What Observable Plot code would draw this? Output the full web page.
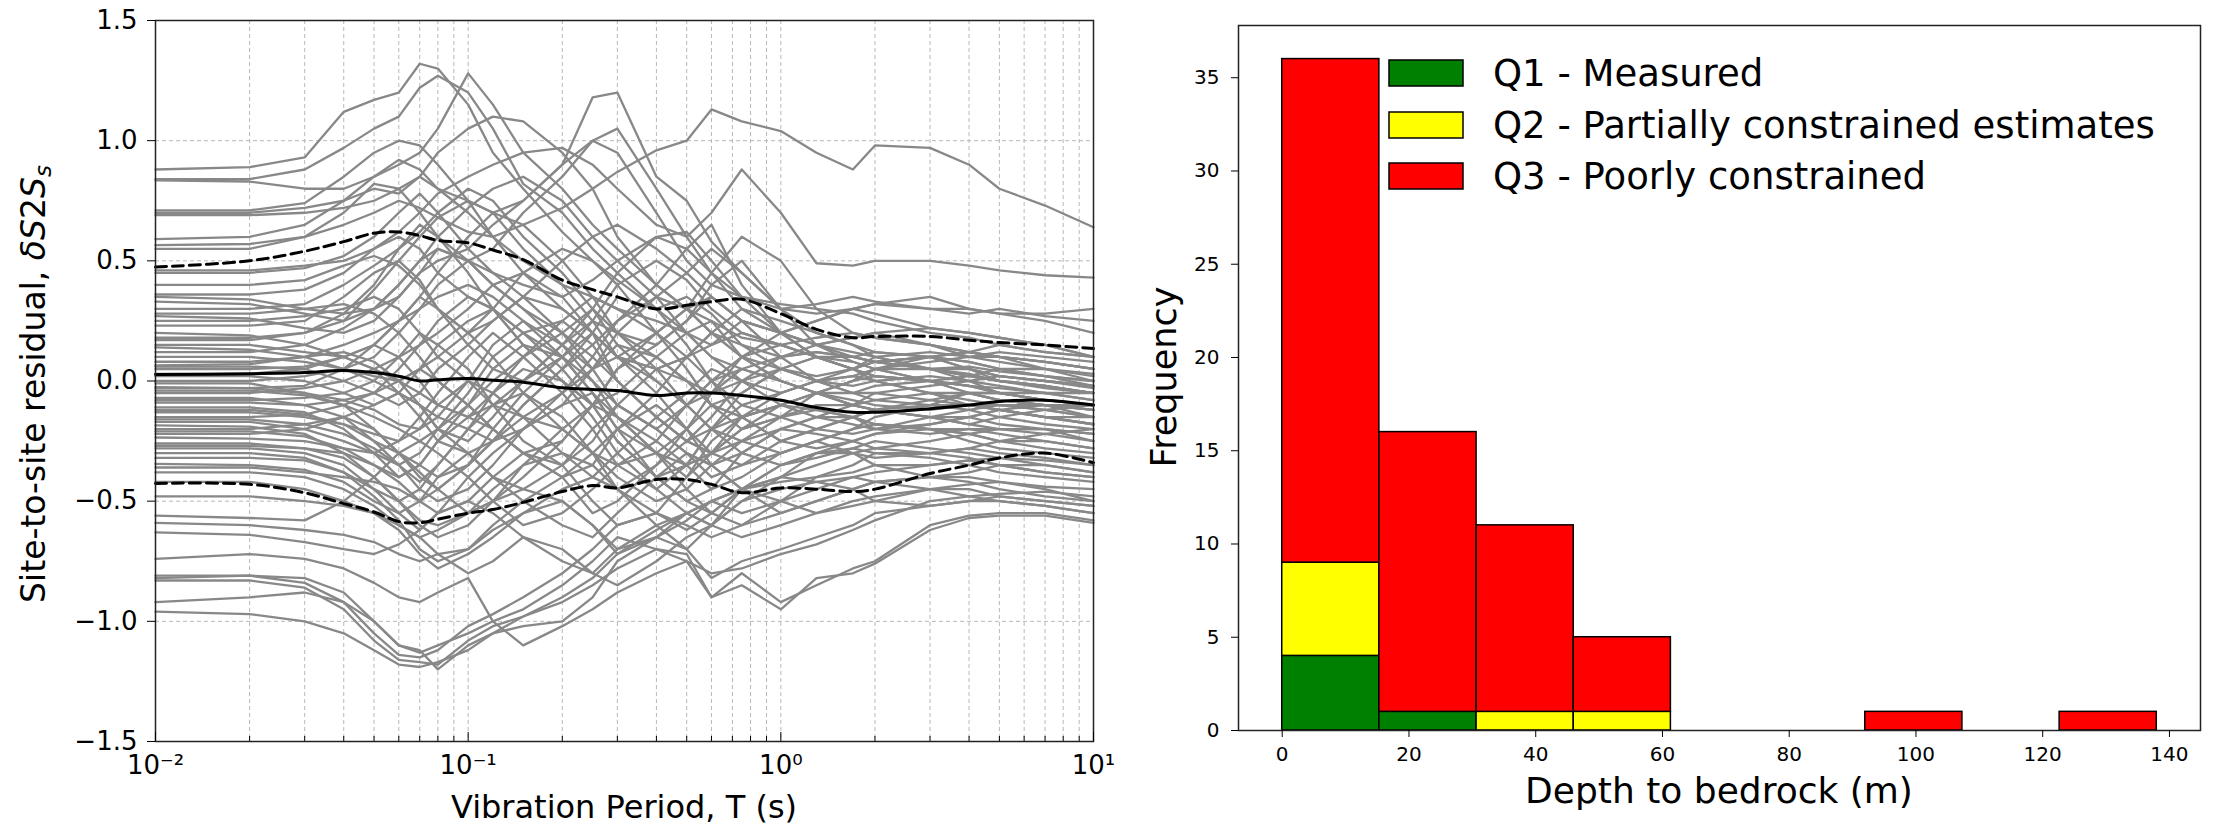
<!DOCTYPE html>
<html>
<head>
<meta charset="utf-8">
<script src="https://cdn.jsdelivr.net/npm/d3@7"></script>
<script src="https://cdn.jsdelivr.net/npm/@observablehq/plot@0.6"></script>
<style>
  html, body { margin: 0; padding: 0; background: #fff; }
  #wrap { position: relative; width: 2213px; height: 827px; font-family: "DejaVu Sans", sans-serif; background: #fff; }
  #left { position: absolute; left: 0; top: 0; z-index: 2; }
  #right { position: absolute; left: 1110px; top: 0; z-index: 1; }
</style>
</head>
<body>
<div id="wrap"><div id="left"></div><div id="right"></div></div>
<script>
// ---------- Left panel: site-to-site residuals vs period ----------
const periods = [0.01,0.02,0.03,0.04,0.05,0.06,0.07,0.08,0.1,0.12,0.15,0.2,0.25,0.3,0.4,0.5,0.6,0.75,1,1.3,1.7,2,3,4,5,7,10];

const s01 = [0.88,0.89,0.93,1.12,1.17, 1.20,1.32,1.30,1.15,0.95, 0.80,0.62,0.50,0.42,0.30, 0.35,0.28,0.15,0.10,0.12, 0.10,0.08,0.05,0.06,0.04, 0.02,0.00];
const s02 = [0.84,0.84,0.88,0.97,1.05, 1.10,1.22,1.27,1.20,1.05, 0.82,0.70,0.55,0.45,0.30, 0.20,0.25,0.18,0.15,0.10, 0.05,0.08,0.10,0.12,0.10, 0.08,0.05];
const s03 = [0.835,0.83,0.80,0.80,0.85, 0.90,0.95,1.05,1.28,1.15, 0.95,0.80,0.65,0.55,0.40, 0.30,0.20,0.10,0.05,0.02, 0.05,0.10,0.12,0.10,0.08, 0.05,0.02];
const s04 = [0.71,0.71,0.74,0.85,0.95, 1.00,0.98,0.90,0.75,0.60, 0.45,0.30,0.20,0.10,0.05, 0.00,-0.05,0.00,0.05,0.10, 0.10,0.08,0.05,0.02,0.00, -0.02,-0.05];
const s05 = [0.70,0.70,0.72,0.75,0.80, 0.78,0.85,0.95,1.05,1.10, 1.08,0.95,0.80,0.60,0.40, 0.30,0.35,0.25,0.20,0.15, 0.18,0.20,0.22,0.20,0.18, 0.15,0.10];
const s06 = [0.69,0.69,0.70,0.72,0.75, 0.80,0.85,0.80,0.75,0.70, 0.75,0.90,1.18,1.20,0.85, 0.75,0.58,0.45,0.30,0.28, 0.30,0.32,0.30,0.28,0.30, 0.27,0.25];
const s07 = [0.59,0.60,0.65,0.75,0.85, 0.92,0.88,0.80,0.70,0.60, 0.50,0.40,0.35,0.30,0.25, 0.20,0.15,0.20,0.15,0.10, 0.05,0.02,0.00,-0.05,-0.08, -0.10,-0.12];
const s08 = [0.565,0.57,0.60,0.65,0.70, 0.75,0.72,0.68,0.62,0.60, 0.65,0.72,0.80,0.87,0.96, 1.00,1.13,1.08,1.04,0.95, 0.88,0.98,0.97,0.90,0.80, 0.73,0.64];
const s09 = [0.55,0.55,0.60,0.70,0.82, 0.80,0.70,0.60,0.50,0.55, 0.70,0.85,1.00,1.05,0.80, 0.60,0.45,0.30,0.20,0.15, 0.18,0.20,0.15,0.10,0.12, 0.10,0.08];
const s10 = [0.46,0.46,0.48,0.50,0.55, 0.62,0.70,0.78,0.85,0.90, 0.95,0.97,0.90,0.80,0.65, 0.60,0.70,0.88,0.70,0.49, 0.48,0.50,0.50,0.48,0.46, 0.44,0.43];
const s11 = [0.45,0.45,0.47,0.52,0.60, 0.70,0.78,0.70,0.55,0.45, 0.40,0.35,0.42,0.50,0.60, 0.55,0.45,0.35,0.30,0.32, 0.35,0.33,0.30,0.30,0.28, 0.28,0.30];
const s12 = [0.36,0.36,0.38,0.45,0.55, 0.60,0.55,0.45,0.35,0.30, 0.20,0.10,0.00,-0.10,-0.20, -0.10,0.00,0.10,0.20,0.25, 0.30,0.32,0.35,0.30,0.28, 0.25,0.20];
const s13 = [0.35,0.34,0.30,0.28,0.30, 0.40,0.50,0.60,0.72,0.80, 0.85,0.75,0.60,0.50,0.35, 0.20,0.10,0.05,0.10,0.15, 0.12,0.10,0.05,0.05,0.02, 0.00,-0.02];
const s14 = [0.33,0.32,0.28,0.25,0.30, 0.35,0.45,0.55,0.50,0.40, 0.30,0.15,0.05,0.10,0.20, 0.30,0.45,0.60,0.50,0.30, 0.20,0.18,0.15,0.12,0.10, 0.05,0.00];
const s15 = [0.30,0.30,0.32,0.40,0.48, 0.55,0.62,0.70,0.80,0.75, 0.60,0.45,0.30,0.15,0.00, -0.10,-0.05,0.05,0.00,-0.05, -0.10,-0.08,-0.05,-0.05,-0.08, -0.10,-0.12];
const s16 = [0.27,0.26,0.22,0.20,0.25, 0.35,0.45,0.50,0.55,0.65, 0.75,0.90,1.00,0.95,0.70, 0.50,0.40,0.35,0.32,0.30, 0.28,0.25,0.20,0.18,0.15, 0.12,0.10];
const s17 = [0.25,0.25,0.27,0.30,0.35, 0.30,0.20,0.10,0.00,-0.10, -0.15,-0.05,0.10,0.25,0.40, 0.55,0.65,0.40,0.20,0.10, 0.05,0.08,0.10,0.05,0.00, -0.02,-0.05];
const s18 = [0.23,0.23,0.25,0.35,0.45, 0.50,0.42,0.30,0.20,0.25, 0.35,0.50,0.60,0.65,0.55, 0.45,0.35,0.25,0.20,0.25, 0.30,0.28,0.22,0.20,0.18, 0.15,0.10];
const s19 = [0.20,0.19,0.15,0.10,0.05, 0.00,-0.05,-0.10,-0.15,-0.10, 0.00,0.15,0.30,0.45,0.60, 0.62,0.50,0.35,0.20,0.15, 0.10,0.12,0.10,0.05,0.02, 0.00,-0.03];
const s20 = [0.17,0.17,0.20,0.25,0.38, 0.50,0.60,0.68,0.75,0.70, 0.55,0.40,0.25,0.10,0.00, -0.10,-0.20,-0.15,-0.10,-0.05, 0.00,0.02,0.00,-0.02,-0.05, -0.08,-0.10];
const s21 = [0.15,0.15,0.12,0.10,0.15, 0.25,0.35,0.45,0.60,0.70, 0.65,0.50,0.35,0.20,0.15, 0.25,0.40,0.50,0.30,0.15, 0.08,0.05,0.00,-0.05,-0.08, -0.10,-0.15];
const s22 = [0.14,0.13,0.10,0.05,0.00, -0.05,-0.10,-0.15,-0.20,-0.25, -0.20,-0.10,0.05,0.20,0.35, 0.45,0.55,0.45,0.30,0.20, 0.15,0.12,0.10,0.08,0.05, 0.02,0.00];
const s23 = [0.12,0.12,0.15,0.22,0.30, 0.40,0.50,0.55,0.50,0.40, 0.30,0.20,0.10,0.00,-0.15, -0.25,-0.30,-0.20,-0.10,-0.05, -0.10,-0.12,-0.15,-0.18,-0.20, -0.20,-0.22];
const s24 = [0.10,0.10,0.08,0.05,0.02, 0.00,0.05,0.10,0.20,0.30, 0.45,0.55,0.50,0.40,0.20, 0.05,-0.10,-0.20,-0.15,-0.05, 0.00,0.05,0.08,0.10,0.10, 0.08,0.05];
const s25 = [0.065,0.07,0.10,0.15,0.20, 0.25,0.30,0.35,0.40,0.35, 0.25,0.10,-0.05,-0.20,-0.30, -0.20,-0.05,0.10,0.15,0.10, 0.05,0.00,-0.05,-0.10,-0.12, -0.15,-0.18];
const s26 = [0.06,0.06,0.05,0.00,-0.05, -0.10,-0.05,0.05,0.15,0.25, 0.35,0.30,0.20,0.10,0.05, 0.10,0.20,0.30,0.25,0.20, 0.15,0.10,0.05,0.00,-0.05, -0.08,-0.10];
const s27 = [0.03,0.03,0.05,0.10,0.05, -0.05,-0.15,-0.25,-0.30,-0.25, -0.10,0.05,0.20,0.35,0.30, 0.15,0.00,-0.10,-0.15,-0.20, -0.22,-0.20,-0.15,-0.12,-0.10, -0.10,-0.12];
const s28 = [0.00,0.00,0.02,0.05,0.10, 0.20,0.30,0.40,0.50,0.45, 0.35,0.20,0.05,-0.10,-0.20, -0.30,-0.35,-0.30,-0.20,-0.15, -0.10,-0.05,-0.02,0.00,0.02, 0.00,-0.02];
const s29 = [-0.01,-0.01,-0.05,-0.10,-0.15, -0.20,-0.25,-0.20,-0.10,0.00, 0.10,0.20,0.30,0.20,0.05, -0.10,-0.20,-0.25,-0.30,-0.25, -0.20,-0.15,-0.10,-0.05,-0.05, -0.08,-0.10];
const s30 = [-0.026,-0.03,-0.02,0.05,0.15, 0.25,0.35,0.30,0.20,0.10, -0.05,-0.20,-0.30,-0.35,-0.25, -0.10,0.00,0.05,0.00,-0.05, -0.10,-0.12,-0.15,-0.15,-0.18, -0.20,-0.25];
const s31 = [-0.04,-0.04,-0.06,-0.10,-0.20, -0.30,-0.35,-0.40,-0.35,-0.25, -0.10,0.05,0.15,0.25,0.35, 0.30,0.20,0.10,0.00,-0.05, -0.05,-0.02,0.00,0.02,0.05, 0.05,0.03];
const s32 = [-0.05,-0.05,-0.03,0.00,0.05, 0.10,0.15,0.20,0.30,0.40, 0.45,0.35,0.20,0.00,-0.15, -0.25,-0.30,-0.35,-0.30,-0.25, -0.20,-0.18,-0.20,-0.22,-0.25, -0.25,-0.28];
const s33 = [-0.07,-0.07,-0.10,-0.15,-0.25, -0.35,-0.45,-0.50,-0.45,-0.35, -0.20,-0.05,0.05,0.15,0.10, 0.00,-0.10,-0.15,-0.10,-0.05, 0.00,0.05,0.10,0.12,0.15, 0.12,0.10];
const s34 = [-0.09,-0.09,-0.10,-0.08,-0.05, 0.00,0.05,0.00,-0.10,-0.20, -0.30,-0.40,-0.35,-0.20,-0.05, 0.10,0.20,0.15,0.05,0.00, -0.02,0.00,0.02,0.00,-0.02, -0.05,-0.08];
const s35 = [-0.11,-0.11,-0.13,-0.20,-0.30, -0.40,-0.35,-0.25,-0.10,0.05, 0.15,0.10,-0.05,-0.20,-0.40, -0.50,-0.45,-0.30,-0.20,-0.15, -0.15,-0.18,-0.20,-0.25,-0.28, -0.30,-0.32];
const s36 = [-0.13,-0.13,-0.15,-0.18,-0.25, -0.30,-0.38,-0.45,-0.55,-0.50, -0.40,-0.25,-0.10,0.05,0.20, 0.30,0.25,0.10,0.00,-0.05, -0.08,-0.10,-0.12,-0.10,-0.10, -0.12,-0.15];
const s37 = [-0.15,-0.15,-0.14,-0.10,-0.05, 0.05,0.15,0.25,0.35,0.30, 0.15,0.00,-0.15,-0.30,-0.45, -0.55,-0.60,-0.50,-0.40,-0.35, -0.30,-0.28,-0.25,-0.22,-0.20, -0.20,-0.22];
const s38 = [-0.17,-0.17,-0.20,-0.25,-0.30, -0.35,-0.30,-0.20,-0.05,0.10, 0.20,0.25,0.15,0.00,-0.15, -0.25,-0.15,0.00,0.10,0.12, 0.10,0.08,0.05,0.02,0.00, -0.02,-0.05];
const s39 = [-0.185,-0.19,-0.22,-0.30,-0.40, -0.50,-0.60,-0.65,-0.60,-0.50, -0.35,-0.20,-0.10,-0.15,-0.30, -0.45,-0.55,-0.45,-0.35,-0.30, -0.28,-0.30,-0.32,-0.35,-0.38, -0.40,-0.42];
const s40 = [-0.20,-0.20,-0.18,-0.15,-0.20, -0.30,-0.40,-0.45,-0.35,-0.20, -0.05,0.10,0.20,0.10,-0.05, -0.20,-0.30,-0.25,-0.15,-0.10, -0.10,-0.12,-0.15,-0.18,-0.15, -0.12,-0.10];
const s41 = [-0.21,-0.21,-0.23,-0.28,-0.35, -0.42,-0.50,-0.55,-0.50,-0.40, -0.30,-0.35,-0.50,-0.60,-0.55, -0.40,-0.25,-0.15,-0.10,-0.12, -0.15,-0.18,-0.20,-0.22,-0.25, -0.28,-0.30];
const s42 = [-0.235,-0.24,-0.25,-0.28,-0.30, -0.25,-0.15,-0.05,0.10,0.20, 0.10,-0.05,-0.20,-0.35,-0.45, -0.35,-0.20,-0.10,-0.05,0.00, 0.02,0.05,0.05,0.03,0.00, -0.03,-0.05];
const s43 = [-0.26,-0.26,-0.28,-0.32,-0.40, -0.50,-0.58,-0.60,-0.55,-0.45, -0.35,-0.30,-0.35,-0.45,-0.60, -0.70,-0.60,-0.45,-0.35,-0.30, -0.30,-0.35,-0.40,-0.42,-0.45, -0.48,-0.50];
const s44 = [-0.28,-0.28,-0.30,-0.35,-0.45, -0.55,-0.62,-0.55,-0.40,-0.30, -0.20,-0.10,-0.05,-0.15,-0.25, -0.35,-0.30,-0.20,-0.15,-0.12, -0.15,-0.20,-0.22,-0.20,-0.20, -0.22,-0.25];
const s45 = [-0.30,-0.30,-0.32,-0.38,-0.45, -0.50,-0.45,-0.35,-0.20,-0.05, 0.05,0.00,-0.10,-0.25,-0.40, -0.50,-0.55,-0.60,-0.50,-0.40, -0.35,-0.30,-0.30,-0.32,-0.35, -0.38,-0.40];
const s46 = [-0.32,-0.32,-0.33,-0.38,-0.48, -0.58,-0.70,-0.75,-0.70,-0.60, -0.50,-0.40,-0.30,-0.20,-0.10, -0.20,-0.35,-0.45,-0.40,-0.30, -0.25,-0.22,-0.18,-0.15,-0.12, -0.15,-0.18];
const s47 = [-0.345,-0.35,-0.37,-0.42,-0.50, -0.55,-0.50,-0.40,-0.30,-0.40, -0.50,-0.60,-0.65,-0.55,-0.40, -0.30,-0.35,-0.45,-0.55,-0.50, -0.45,-0.42,-0.40,-0.38,-0.35, -0.35,-0.38];
const s48 = [-0.38,-0.38,-0.40,-0.45,-0.52, -0.60,-0.65,-0.62,-0.55,-0.50, -0.45,-0.50,-0.60,-0.70,-0.65, -0.55,-0.50,-0.55,-0.50,-0.45, -0.40,-0.38,-0.35,-0.33,-0.32, -0.33,-0.35];
const s49 = [-0.42,-0.42,-0.45,-0.50,-0.55, -0.62,-0.72,-0.78,-0.72,-0.65, -0.55,-0.45,-0.40,-0.45,-0.55, -0.62,-0.55,-0.45,-0.40,-0.42, -0.45,-0.50,-0.52,-0.50,-0.48, -0.50,-0.52];
const s50 = [-0.48,-0.48,-0.50,-0.52,-0.55, -0.60,-0.65,-0.72,-0.80,-0.75, -0.65,-0.70,-0.80,-0.85,-0.75, -0.65,-0.60,-0.50,-0.45,-0.42, -0.40,-0.42,-0.45,-0.48,-0.50, -0.52,-0.55];
const s51 = [-0.56,-0.57,-0.58,-0.50,-0.40, -0.30,-0.25,-0.30,-0.40,-0.50, -0.60,-0.55,-0.45,-0.35,-0.30, -0.35,-0.45,-0.40,-0.30,-0.25, -0.30,-0.32,-0.30,-0.28,-0.30, -0.32,-0.35];
const s52 = [-0.59,-0.60,-0.62,-0.64,-0.67, -0.72,-0.75,-0.72,-0.70,-0.62, -0.55,-0.50,-0.60,-0.72,-0.65, -0.58,-0.50,-0.45,-0.50,-0.55, -0.52,-0.50,-0.45,-0.45,-0.48, -0.50,-0.52];
const s53 = [-0.63,-0.64,-0.67,-0.70,-0.72, -0.68,-0.62,-0.55,-0.50,-0.55, -0.65,-0.75,-0.80,-0.70,-0.60, -0.55,-0.60,-0.65,-0.60,-0.55, -0.50,-0.48,-0.45,-0.43,-0.42, -0.44,-0.45];
const s54 = [-0.74,-0.72,-0.74,-0.78,-0.84, -0.90,-0.92,-0.88,-0.82,-1.00, -1.10,-1.02,-0.95,-0.88,-0.80, -0.75,-0.90,-0.85,-0.95,-0.82, -0.80,-0.76,-0.62,-0.57,-0.56, -0.56,-0.59];
const s55 = [-0.81,-0.81,-0.82,-0.88,-1.00, -1.10,-1.13,-1.10,-1.05,-1.00, -0.95,-0.85,-0.75,-0.65,-0.70, -0.75,-0.80,-0.78,-0.72,-0.68, -0.62,-0.58,-0.50,-0.48,-0.47, -0.46,-0.48];
const s56 = [-0.82,-0.81,-0.84,-0.92,-1.05, -1.14,-1.15,-1.12,-1.02,-0.97, -0.90,-0.80,-0.70,-0.60,-0.55, -0.60,-0.65,-0.60,-0.55,-0.50, -0.45,-0.42,-0.40,-0.40,-0.42, -0.45,-0.50];
const s57 = [-0.83,-0.83,-0.86,-0.95,-1.08, -1.16,-1.17,-1.18,-1.08,-1.02, -0.98,-0.92,-0.85,-0.78,-0.70, -0.72,-0.90,-0.80,-0.92,-0.85, -0.78,-0.75,-0.60,-0.56,-0.55, -0.55,-0.58];
const s58 = [-0.92,-0.90,-0.88,-0.92,-1.00, -1.10,-1.12,-1.20,-1.10,-1.05, -1.02,-1.00,-0.90,-0.75,-0.65, -0.70,-0.82,-0.75,-0.70,-0.65, -0.60,-0.55,-0.52,-0.50,-0.50, -0.52,-0.55];
const s59 = [-0.96,-0.97,-1.00,-1.05,-1.12, -1.18,-1.19,-1.17,-1.12,-1.05, -0.98,-0.90,-0.82,-0.72,-0.62, -0.55,-0.50,-0.45,-0.42,-0.40, -0.38,-0.35,-0.35,-0.33,-0.35, -0.38,-0.40];
const s60 = [0.40,0.40,0.42,0.48,0.52, 0.48,0.40,0.30,0.15,0.05, 0.00,0.10,0.25,0.40,0.50, 0.42,0.30,0.20,0.15,0.18, 0.20,0.18,0.15,0.12,0.10, 0.08,0.05];
const s61 = [0.28,0.28,0.30,0.32,0.28, 0.20,0.10,0.00,-0.10,-0.20, -0.30,-0.25,-0.10,0.05,0.15, 0.25,0.35,0.25,0.10,0.00, -0.05,-0.08,-0.10,-0.12,-0.15, -0.18,-0.20];
const s62 = [0.18,0.18,0.20,0.28,0.40, 0.55,0.65,0.60,0.45,0.30, 0.15,0.00,-0.10,-0.05,0.10, 0.20,0.10,0.00,-0.05,0.00, 0.05,0.08,0.10,0.08,0.05, 0.02,-0.02];
const s63 = [0.08,0.08,0.10,0.12,0.08, 0.00,-0.10,-0.20,-0.25,-0.15, 0.00,0.15,0.25,0.20,0.10, 0.00,-0.10,-0.05,0.05,0.10, 0.08,0.05,0.00,-0.02,-0.05, -0.05,-0.08];
const s64 = [0.02,0.02,0.00,-0.05,-0.10, -0.05,0.05,0.15,0.25,0.30, 0.20,0.05,-0.10,-0.25,-0.40, -0.35,-0.20,-0.05,0.05,0.00, -0.05,-0.05,-0.08,-0.10,-0.12, -0.15,-0.15];
const s65 = [-0.03,-0.03,-0.05,-0.08,-0.12, -0.18,-0.20,-0.15,0.00,0.15, 0.25,0.15,0.00,-0.15,-0.30, -0.40,-0.30,-0.15,-0.05,0.00, 0.02,0.00,-0.05,-0.08,-0.10, -0.12,-0.15];
const s66 = [-0.08,-0.08,-0.07,-0.05,0.00, 0.10,0.20,0.15,0.05,-0.10, -0.25,-0.35,-0.25,-0.10,0.05, 0.10,0.00,-0.15,-0.25,-0.20, -0.15,-0.12,-0.10,-0.10,-0.12, -0.15,-0.18];
const s67 = [-0.12,-0.12,-0.14,-0.18,-0.22, -0.25,-0.20,-0.10,0.00,-0.05, -0.15,-0.30,-0.40,-0.30,-0.15, -0.05,0.05,0.00,-0.10,-0.15, -0.18,-0.20,-0.18,-0.15,-0.12, -0.10,-0.10];
const s68 = [-0.16,-0.16,-0.18,-0.22,-0.28, -0.35,-0.42,-0.35,-0.20,-0.10, -0.05,-0.15,-0.30,-0.45,-0.35, -0.20,-0.10,-0.15,-0.25,-0.28, -0.25,-0.22,-0.20,-0.20,-0.22, -0.25,-0.28];
const s69 = [-0.22,-0.22,-0.20,-0.15,-0.10, -0.05,-0.10,-0.20,-0.30,-0.40, -0.45,-0.35,-0.20,-0.10,-0.20, -0.30,-0.40,-0.35,-0.25,-0.20, -0.15,-0.12,-0.08,-0.05,-0.05, -0.08,-0.10];
const s70 = [-0.27,-0.27,-0.28,-0.30,-0.35, -0.40,-0.35,-0.25,-0.15,-0.20, -0.30,-0.40,-0.55,-0.50,-0.35, -0.25,-0.20,-0.30,-0.35,-0.32, -0.28,-0.25,-0.28,-0.30,-0.32, -0.35,-0.38];
const s71 = [-0.36,-0.36,-0.38,-0.40,-0.42, -0.45,-0.50,-0.45,-0.35,-0.25, -0.15,-0.20,-0.30,-0.40,-0.50, -0.45,-0.35,-0.25,-0.20,-0.22, -0.25,-0.28,-0.30,-0.28,-0.25, -0.22,-0.20];
const s72 = [0.05,0.05,0.06,0.10,0.15, 0.10,0.00,-0.10,-0.15,-0.05, 0.10,0.25,0.35,0.30,0.20, 0.10,0.15,0.25,0.20,0.10, 0.05,0.02,0.00,-0.02,-0.03, -0.05,-0.05];

// mean and mean ± one standard deviation
const meanCurve  = [0.027,0.03,0.035,0.044,0.035, 0.02,0.0,0.005,0.01,0.003, -0.005,-0.028,-0.035,-0.04,-0.06, -0.05,-0.05,-0.06,-0.08,-0.11, -0.13,-0.13,-0.115,-0.10,-0.085, -0.08,-0.10];
const upperCurve = [0.474,0.50,0.54,0.58,0.615, 0.62,0.605,0.585,0.575,0.545, 0.505,0.42,0.38,0.35,0.30, 0.315,0.33,0.34,0.28,0.215, 0.18,0.185,0.185,0.17,0.16, 0.15,0.135];
const lowerCurve = [-0.426,-0.43,-0.465,-0.51,-0.545, -0.585,-0.59,-0.575,-0.55,-0.535, -0.505,-0.46,-0.435,-0.445,-0.41, -0.41,-0.43,-0.465,-0.445,-0.45, -0.46,-0.45,-0.385,-0.35,-0.32, -0.30,-0.34];

const yTicks = [-1.5,-1.0,-0.5,0.0,0.5,1.0,1.5];
const yGridLines = [-1.0,-0.5,0.0,0.5,1.0];
const xMajor = [0.01,0.1,1,10];
const xMajorLabels = ["10\u207B\u00B2","10\u207B\u00B9","10\u2070","10\u00B9"];
const xMinor = [0.02,0.03,0.04,0.05,0.06,0.07,0.08,0.09,0.2,0.3,0.4,0.5,0.6,0.7,0.8,0.9,2,3,4,5,6,7,8,9];
const xGridLines = [0.02,0.03,0.04,0.05,0.06,0.07,0.08,0.09,0.1,0.2,0.3,0.4,0.5,0.6,0.7,0.8,0.9,1,2,3,4,5,6,7,8,9];

// ---------- Right panel: histogram of depth to bedrock ----------
const binEdges = [0,15.33,30.67,46,61.33,76.67,92,107.33,122.67,138];
const qualityNames = ["Q1 - Measured","Q2 - Partially constrained estimates","Q3 - Poorly constrained"];
const qualityColors = ["#008000","#ffff00","#ff0000"];
const countQ1 = [4,1,0,0,0,0,0,0,0];
const countQ2 = [5,0,1,1,0,0,0,0,0];
const countQ3 = [27,15,10,4,0,0,1,0,1];
const freqTicks = [0,5,10,15,20,25,30,35];
const depthTicks = [0,20,40,60,80,100,120,140];

// ---------- build tables ----------
const siteCurves = [s01,s02,s03,s04,s05,s06,s07,s08,s09,s10,s11,s12,s13,s14,s15,s16,s17,s18,s19,s20,
  s21,s22,s23,s24,s25,s26,s27,s28,s29,s30,s31,s32,s33,s34,s35,s36,s37,s38,s39,s40,
  s41,s42,s43,s44,s45,s46,s47,s48,s49,s50,s51,s52,s53,s54,s55,s56,s57,s58,s59,s60,
  s61,s62,s63,s64,s65,s66,s67,s68,s69,s70,s71,s72];
const siteRows = siteCurves.flatMap((vals, i) => vals.map((v, j) => ({site: i, T: periods[j], v})));
const toRows = (arr) => arr.map((v, j) => ({T: periods[j], v}));
const fmtY = d => (d < 0 ? "\u2212" : "") + Math.abs(d).toFixed(1);
const FONT = "'DejaVu Sans', sans-serif";

const left = Plot.plot({
  width: 1110, height: 827,
  marginLeft: 155, marginRight: 17, marginTop: 20, marginBottom: 86,
  x: {type: "log", domain: [0.01, 10]},
  y: {domain: [-1.5, 1.5]},
  style: {fontFamily: FONT, color: "black", background: "transparent", overflow: "visible"},
  marks: [
    Plot.ruleX(xGridLines, {stroke: "#b8b8b8", strokeWidth: 1, strokeDasharray: "4,3"}),
    Plot.ruleY(yGridLines, {stroke: "#b8b8b8", strokeWidth: 1, strokeDasharray: "4,3"}),
    Plot.line(siteRows, {x: "T", y: "v", z: "site", stroke: "#888888", strokeWidth: 2.3}),
    Plot.line(toRows(meanCurve), {x: "T", y: "v", stroke: "black", strokeWidth: 3, curve: "catmull-rom"}),
    Plot.line(toRows(upperCurve), {x: "T", y: "v", stroke: "black", strokeWidth: 3, strokeDasharray: "11,6", curve: "catmull-rom"}),
    Plot.line(toRows(lowerCurve), {x: "T", y: "v", stroke: "black", strokeWidth: 3, strokeDasharray: "11,6", curve: "catmull-rom"}),
    Plot.frame({stroke: "#222", strokeWidth: 1.5}),
    Plot.axisY({ticks: yTicks, tickSize: 8, tickPadding: 10, tickFormat: fmtY, fontSize: 26, label: null}),
    Plot.axisX({ticks: xMinor, tickSize: -5, tickFormat: () => "", label: null}),
    Plot.axisX({ticks: xMajor, tickSize: -9, tickFormat: () => "", label: null}),
    Plot.axisX({ticks: xMajor, tickSize: 0, tickPadding: 14, fontSize: 26, label: null,
      tickFormat: d => xMajorLabels[xMajor.findIndex(t => Math.abs(t - d) < 1e-9)]})
  ]
});
document.getElementById("left").appendChild(left);

const lsvg = d3.select(left);
lsvg.append("text")
  .attr("x", 624).attr("y", 818)
  .attr("text-anchor", "middle")
  .style("font-size", "32px").style("font-family", FONT).attr("fill", "black")
  .text("Vibration Period, T (s)");
const ylab = lsvg.append("text")
  .attr("transform", "translate(45,384) rotate(-90)")
  .attr("text-anchor", "middle")
  .style("font-size", "33px").style("font-family", FONT).attr("fill", "black");
ylab.append("tspan").text("Site-to-site residual, ");
ylab.append("tspan").style("font-style", "italic").text("\u03B4S");
ylab.append("tspan").text("2");
ylab.append("tspan").style("font-style", "italic").text("S");
ylab.append("tspan").style("font-style", "italic").style("font-size", "23px").attr("dy", 6).text("s");

// histogram rows (stacked Q1, Q2, Q3)
const binRows = [];
for (let i = 0; i < binEdges.length - 1; i++) {
  const counts = [countQ1[i], countQ2[i], countQ3[i]];
  const cum = Array.from(d3.cumsum(counts));
  counts.forEach((c, k) => {
    if (c > 0) binRows.push({x1: binEdges[i], x2: binEdges[i + 1], y1: cum[k] - c, y2: cum[k], q: qualityNames[k]});
  });
}

const right = Plot.plot({
  width: 1103, height: 827,
  marginLeft: 128, marginRight: 13, marginTop: 25, marginBottom: 97,
  x: {domain: [-6.9, 144.9]},
  y: {domain: [0, 37.8]},
  color: {domain: qualityNames, range: qualityColors},
  style: {fontFamily: FONT, color: "black", background: "transparent", overflow: "visible"},
  marks: [
    Plot.rect(binRows, {x1: "x1", x2: "x2", y1: "y1", y2: "y2", fill: "q", stroke: "black", strokeWidth: 1.5}),
    Plot.frame({stroke: "#222", strokeWidth: 1.5}),
    Plot.axisY({ticks: freqTicks, tickSize: 7, tickPadding: 12, fontSize: 20, label: null}),
    Plot.axisX({ticks: depthTicks, tickSize: 7, tickPadding: 9, fontSize: 20, label: null})
  ]
});
document.getElementById("right").appendChild(right);

const rsvg = d3.select(right);
rsvg.append("text")
  .attr("transform", "translate(66,377) rotate(-90)")
  .attr("text-anchor", "middle")
  .style("font-size", "35px").style("font-family", FONT).attr("fill", "black")
  .text("Frequency");
rsvg.append("text")
  .attr("x", 609).attr("y", 803)
  .attr("text-anchor", "middle")
  .style("font-size", "36px").style("font-family", FONT).attr("fill", "black")
  .text("Depth to bedrock (m)");

const legendRowsY = [60, 112, 163];
const lg = rsvg.append("g").attr("text-anchor", "start");
qualityNames.forEach((name, k) => {
  lg.append("rect").attr("x", 279).attr("y", legendRowsY[k]).attr("width", 74).attr("height", 26)
    .attr("fill", qualityColors[k]).attr("stroke", "black").attr("stroke-width", 1.5);
  lg.append("text").attr("x", 383).attr("y", legendRowsY[k] + 26)
    .attr("text-anchor", "start")
    .style("font-size", "37px").style("font-family", FONT).attr("fill", "black")
    .text(name);
});
</script>
</body>
</html>
